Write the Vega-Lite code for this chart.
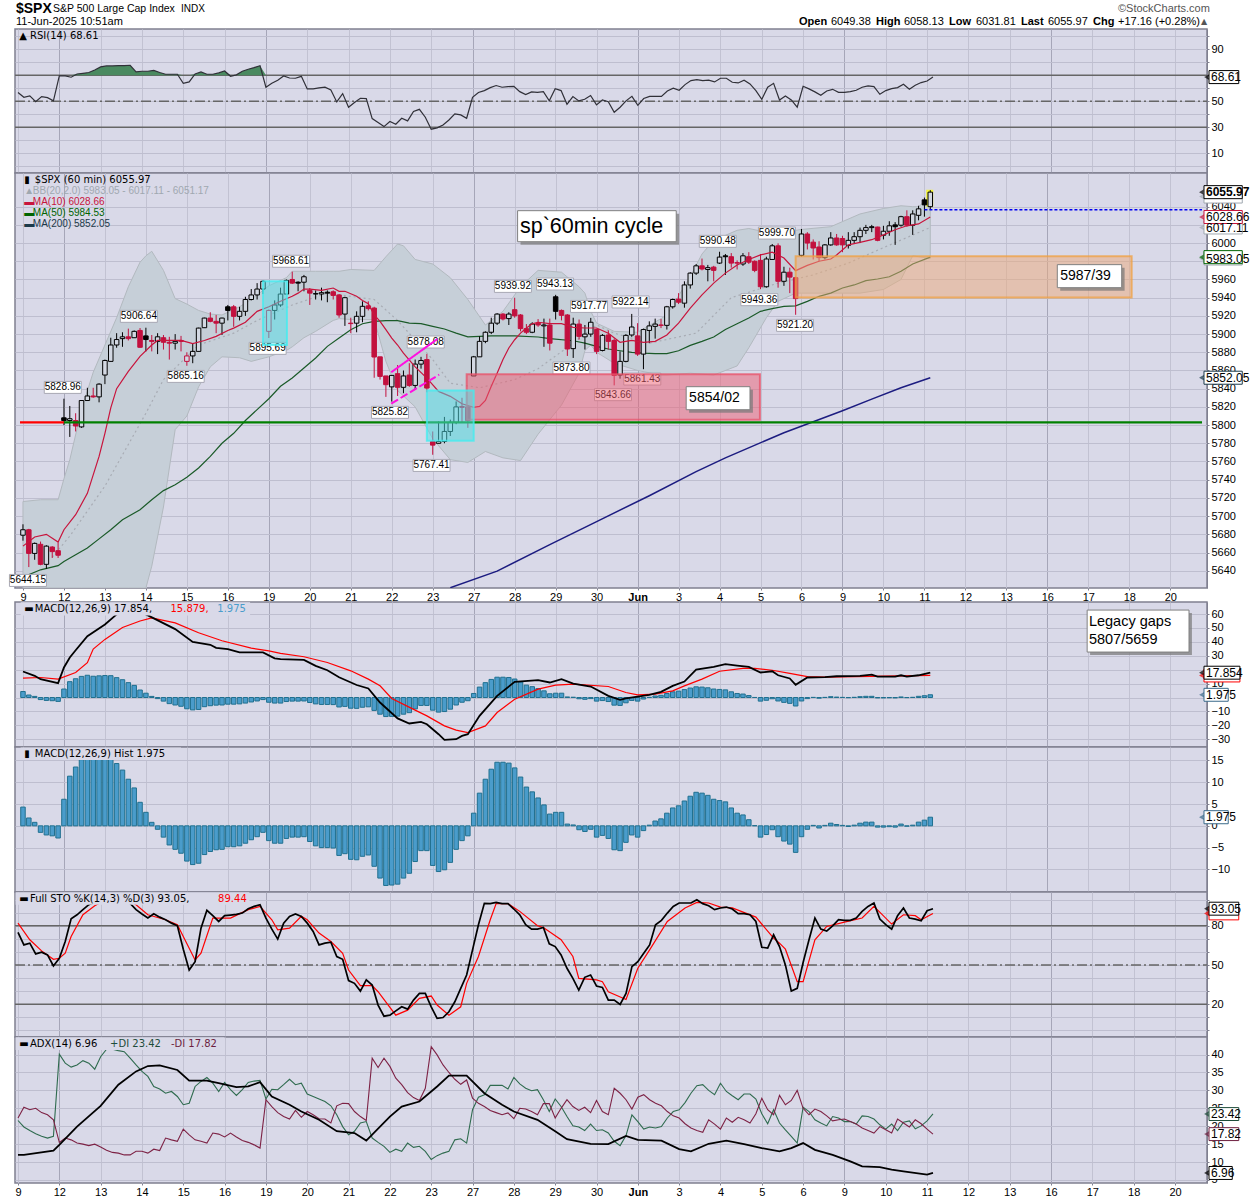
{"$schema":"https://vega.github.io/schema/vega-lite/v6.json","background":"white","padding":{"left":8,"top":0,"right":0,"bottom":2},"spacing":0,"bounds":"flush",
"config":{"view":{"fill":"#D9D9E8","stroke":"#808090","strokeWidth":1.5},"axis":{"labelFont":"Liberation Sans","labelFontSize":11,"labelColor":"#000","format":"d","title":null,"gridColor":"#BEBECF","gridWidth":1,"tickColor":"#808090","domainColor":"#808090"},"text":{"font":"Liberation Sans"}},
"datasets":{
"candles":[
{"i":0,"o":5679,"h":5691,"l":5673,"c":5685,"k":"u"},{"i":1,"o":5685,"h":5686,"l":5644,"c":5659,"k":"r"},{"i":2,"o":5659,"h":5671,"l":5652,"c":5670,"k":"u"},{"i":3,"o":5669,"h":5672,"l":5646,"c":5647,"k":"r"},{"i":4,"o":5647,"h":5668,"l":5642,"c":5667,"k":"u"},{"i":5,"o":5666,"h":5667,"l":5654,"c":5661,"k":"r"},{"i":6,"o":5662,"h":5671,"l":5654,"c":5657,"k":"r"},
{"i":7,"o":5808,"h":5829,"l":5800,"c":5805,"k":"b"},{"i":8,"o":5805,"h":5821,"l":5787,"c":5807,"k":"u"},{"i":9,"o":5805,"h":5813,"l":5793,"c":5799,"k":"r"},{"i":10,"o":5798,"h":5827,"l":5797,"c":5827,"k":"u"},{"i":11,"o":5827,"h":5841,"l":5827,"c":5832,"k":"u"},{"i":12,"o":5832,"h":5841,"l":5830,"c":5831,"k":"r"},{"i":13,"o":5831,"h":5846,"l":5825,"c":5845,"k":"u"},
{"i":14,"o":5855,"h":5872,"l":5845,"c":5871,"k":"u"},{"i":15,"o":5870,"h":5896,"l":5870,"c":5888,"k":"u"},{"i":16,"o":5888,"h":5901,"l":5885,"c":5894,"k":"u"},{"i":17,"o":5895,"h":5902,"l":5886,"c":5897,"k":"u"},{"i":18,"o":5897,"h":5906,"l":5893,"c":5895,"k":"r"},{"i":19,"o":5896,"h":5904,"l":5896,"c":5903,"k":"u"},{"i":20,"o":5904,"h":5906.64,"l":5885,"c":5885.5,"k":"r"},
{"i":21,"o":5898,"h":5907,"l":5881,"c":5894,"k":"b"},{"i":22,"o":5893,"h":5899,"l":5881,"c":5892,"k":"r"},{"i":23,"o":5892,"h":5901,"l":5878,"c":5897,"k":"u"},{"i":24,"o":5896,"h":5899,"l":5883,"c":5891,"k":"r"},{"i":25,"o":5891,"h":5897,"l":5872,"c":5890,"k":"r"},{"i":26,"o":5890,"h":5900,"l":5883,"c":5892,"k":"u"},{"i":27,"o":5893,"h":5898,"l":5881,"c":5892,"k":"r"},
{"i":28,"o":5870,"h":5880,"l":5865.16,"c":5876,"k":"h"},{"i":29,"o":5876,"h":5890,"l":5868,"c":5881,"k":"u"},{"i":30,"o":5881,"h":5907,"l":5881,"c":5906.6,"k":"u"},{"i":31,"o":5907,"h":5918,"l":5907,"c":5917.6,"k":"u"},{"i":32,"o":5917.6,"h":5924,"l":5913,"c":5914,"k":"r"},{"i":33,"o":5914,"h":5921,"l":5901,"c":5912,"k":"r"},{"i":34,"o":5912,"h":5918,"l":5899,"c":5917.6,"k":"u"},
{"i":35,"o":5930,"h":5932,"l":5915,"c":5926,"k":"b"},{"i":36,"o":5930,"h":5932,"l":5908,"c":5919.5,"k":"r"},{"i":37,"o":5919.5,"h":5930,"l":5915,"c":5925,"k":"u"},{"i":38,"o":5925,"h":5941,"l":5920,"c":5938,"k":"u"},{"i":39,"o":5938,"h":5949.5,"l":5937,"c":5943,"k":"u"},{"i":40,"o":5943,"h":5956,"l":5938,"c":5949.5,"k":"u"},{"i":41,"o":5949.5,"h":5959,"l":5944,"c":5958,"k":"u"},
{"i":42,"o":5903,"h":5927,"l":5895.69,"c":5926,"k":"h"},{"i":43,"o":5926,"h":5937,"l":5916,"c":5932,"k":"u"},{"i":44,"o":5932,"h":5951,"l":5930,"c":5944,"k":"u"},{"i":45,"o":5944,"h":5960,"l":5944,"c":5959,"k":"u"},{"i":46,"o":5960,"h":5968.61,"l":5955,"c":5956,"k":"r"},{"i":47,"o":5957,"h":5958,"l":5947,"c":5956,"k":"b"},{"i":48,"o":5957,"h":5965,"l":5947,"c":5963,"k":"u"},
{"i":49,"o":5948,"h":5950.6,"l":5932,"c":5945,"k":"r"},{"i":50,"o":5944,"h":5948,"l":5938,"c":5944.5,"k":"u"},{"i":51,"o":5944,"h":5951,"l":5937,"c":5945.5,"k":"u"},{"i":52,"o":5946,"h":5948,"l":5935,"c":5945,"k":"b"},{"i":53,"o":5946.5,"h":5948,"l":5938,"c":5942.5,"k":"r"},{"i":54,"o":5943,"h":5944,"l":5918,"c":5921,"k":"r"},{"i":55,"o":5922,"h":5941,"l":5909,"c":5940,"k":"u"},
{"i":56,"o":5912,"h":5918,"l":5901,"c":5911.5,"k":"r"},{"i":57,"o":5912,"h":5925,"l":5902,"c":5919.5,"k":"u"},{"i":58,"o":5919.5,"h":5936,"l":5913,"c":5930.5,"k":"u"},{"i":59,"o":5931,"h":5936,"l":5926,"c":5928,"k":"r"},{"i":60,"o":5928.6,"h":5930,"l":5852,"c":5874.8,"k":"r"},{"i":61,"o":5875,"h":5875,"l":5850,"c":5853.5,"k":"r"},{"i":62,"o":5854,"h":5854,"l":5831,"c":5844.4,"k":"r"},{"i":63,"o":5842,"h":5855,"l":5825.82,"c":5854.6,"k":"u"},
{"i":64,"o":5856.5,"h":5866,"l":5832,"c":5841.5,"k":"r"},{"i":65,"o":5841.5,"h":5860,"l":5835,"c":5854,"k":"u"},{"i":66,"o":5855,"h":5868,"l":5842,"c":5843.6,"k":"r"},{"i":67,"o":5843.6,"h":5872,"l":5839,"c":5867,"k":"u"},{"i":68,"o":5867,"h":5875,"l":5862,"c":5871,"k":"u"},{"i":69,"o":5872,"h":5878.08,"l":5836,"c":5840.7,"k":"r"},
{"i":70,"o":5782,"h":5793,"l":5767.41,"c":5778,"k":"r"},{"i":71,"o":5780,"h":5804,"l":5780,"c":5782,"k":"u"},{"i":72,"o":5782,"h":5809,"l":5780,"c":5793,"k":"u"},{"i":73,"o":5793,"h":5806,"l":5788,"c":5803,"k":"u"},{"i":74,"o":5803,"h":5826,"l":5801,"c":5820,"k":"u"},{"i":75,"o":5820.5,"h":5830,"l":5803,"c":5819.5,"k":"r"},{"i":76,"o":5820,"h":5822,"l":5797,"c":5805,"k":"r"},
{"i":77,"o":5854,"h":5876,"l":5854,"c":5875,"k":"u"},{"i":78,"o":5875,"h":5897.5,"l":5875,"c":5892,"k":"u"},{"i":79,"o":5892,"h":5903,"l":5890,"c":5902,"k":"u"},{"i":80,"o":5902,"h":5918,"l":5900,"c":5912,"k":"u"},{"i":81,"o":5912,"h":5923,"l":5910,"c":5922,"k":"u"},{"i":82,"o":5922,"h":5923,"l":5915,"c":5916.6,"k":"r"},{"i":83,"o":5917,"h":5924,"l":5910,"c":5922,"k":"u"},
{"i":84,"o":5926.8,"h":5939.92,"l":5918,"c":5920,"k":"r"},{"i":85,"o":5921,"h":5922,"l":5903,"c":5906,"k":"r"},{"i":86,"o":5906,"h":5911,"l":5900,"c":5902,"k":"r"},{"i":87,"o":5902,"h":5913,"l":5901,"c":5911,"k":"u"},{"i":88,"o":5912,"h":5916.5,"l":5908,"c":5910,"k":"r"},{"i":89,"o":5909,"h":5917,"l":5886,"c":5910,"k":"u"},{"i":90,"o":5910,"h":5917,"l":5882,"c":5890,"k":"r"},
{"i":91,"o":5941,"h":5943.13,"l":5916,"c":5925,"k":"b"},{"i":92,"o":5926,"h":5927,"l":5915,"c":5920.6,"k":"r"},{"i":93,"o":5921,"h":5922,"l":5876,"c":5883.6,"k":"r"},{"i":94,"o":5884,"h":5918,"l":5873.8,"c":5911,"k":"u"},{"i":95,"o":5911,"h":5916,"l":5894,"c":5897.5,"k":"r"},{"i":96,"o":5897,"h":5910,"l":5883,"c":5900,"k":"u"},{"i":97,"o":5900,"h":5917.77,"l":5897,"c":5913,"k":"u"},
{"i":98,"o":5905,"h":5906,"l":5878,"c":5881,"k":"r"},{"i":99,"o":5882,"h":5900,"l":5881,"c":5898.6,"k":"u"},{"i":100,"o":5899,"h":5904,"l":5883,"c":5892,"k":"r"},{"i":101,"o":5893,"h":5895,"l":5843.66,"c":5854.6,"k":"r"},{"i":102,"o":5855,"h":5881,"l":5851,"c":5870,"k":"u"},{"i":103,"o":5870,"h":5900,"l":5869,"c":5898.6,"k":"u"},{"i":104,"o":5899,"h":5922.14,"l":5897,"c":5907.8,"k":"u"},
{"i":105,"o":5898,"h":5912,"l":5876,"c":5878,"k":"r"},{"i":106,"o":5878,"h":5906,"l":5861.43,"c":5905,"k":"u"},{"i":107,"o":5904,"h":5914,"l":5890,"c":5909,"k":"u"},{"i":108,"o":5908.5,"h":5917,"l":5895,"c":5911,"k":"u"},{"i":109,"o":5910,"h":5916.6,"l":5906.6,"c":5909.6,"k":"r"},{"i":110,"o":5909.6,"h":5931,"l":5905,"c":5930,"k":"u"},{"i":111,"o":5930,"h":5939,"l":5928,"c":5938,"k":"u"},
{"i":112,"o":5938.5,"h":5945,"l":5933,"c":5935,"k":"r"},{"i":113,"o":5934,"h":5958,"l":5929,"c":5954,"k":"u"},{"i":114,"o":5954,"h":5968,"l":5950,"c":5967,"k":"u"},{"i":115,"o":5967,"h":5977,"l":5965,"c":5975,"k":"u"},{"i":116,"o":5975,"h":5983,"l":5970,"c":5971.5,"k":"r"},{"i":117,"o":5971,"h":5976,"l":5958,"c":5973,"k":"u"},{"i":118,"o":5973.6,"h":5975,"l":5958,"c":5970,"k":"r"},
{"i":119,"o":5978,"h":5990.48,"l":5977,"c":5984.6,"k":"u"},{"i":120,"o":5986,"h":5988,"l":5965,"c":5985,"k":"b"},{"i":121,"o":5985,"h":5989,"l":5973,"c":5978,"k":"r"},{"i":122,"o":5978.5,"h":5981,"l":5971,"c":5978,"k":"r"},{"i":123,"o":5977,"h":5989,"l":5975,"c":5986,"k":"u"},{"i":124,"o":5985,"h":5990,"l":5977,"c":5979,"k":"r"},{"i":125,"o":5980,"h":5981,"l":5968,"c":5970,"k":"r"},
{"i":126,"o":5981,"h":5988,"l":5949.36,"c":5952,"k":"r"},{"i":127,"o":5952,"h":5985,"l":5951,"c":5982.5,"k":"u"},{"i":128,"o":5982,"h":5999,"l":5982,"c":5997,"k":"u"},{"i":129,"o":5997,"h":5999.7,"l":5951,"c":5958,"k":"r"},{"i":130,"o":5958,"h":5974,"l":5953,"c":5968,"k":"u"},{"i":131,"o":5968,"h":5973,"l":5945,"c":5962.6,"k":"r"},{"i":132,"o":5962,"h":5963,"l":5921.2,"c":5939,"k":"r"},
{"i":133,"o":5986.5,"h":6015.5,"l":5985,"c":6010,"k":"u"},{"i":134,"o":6010,"h":6012,"l":5993,"c":6000,"k":"r"},{"i":135,"o":6001,"h":6004,"l":5982,"c":5994.6,"k":"r"},{"i":136,"o":5995.7,"h":6002,"l":5980,"c":5984,"k":"r"},{"i":137,"o":5984,"h":5999,"l":5982,"c":5998,"k":"u"},{"i":138,"o":5998,"h":6012,"l":5997,"c":6005.6,"k":"u"},{"i":139,"o":6005.6,"h":6010,"l":5997,"c":5998,"k":"r"},
{"i":140,"o":6005,"h":6008,"l":5990,"c":5998,"k":"r"},{"i":141,"o":5997.5,"h":6012,"l":5994,"c":6003,"k":"u"},{"i":142,"o":6003,"h":6012,"l":6000,"c":6007,"k":"u"},{"i":143,"o":6007,"h":6017,"l":6000,"c":6014,"k":"u"},{"i":144,"o":6014,"h":6020,"l":6010,"c":6017,"k":"u"},{"i":145,"o":6017,"h":6020,"l":6012,"c":6018,"k":"u"},{"i":146,"o":6017.6,"h":6018,"l":6002,"c":6003,"k":"r"},
{"i":147,"o":6008.6,"h":6019,"l":6004,"c":6013,"k":"u"},{"i":148,"o":6013,"h":6024,"l":6008,"c":6019,"k":"u"},{"i":149,"o":6020,"h":6023,"l":5998,"c":6018,"k":"b"},{"i":150,"o":6019.6,"h":6030,"l":6018,"c":6029,"k":"u"},{"i":151,"o":6029,"h":6036,"l":6018,"c":6019.6,"k":"r"},{"i":152,"o":6019.6,"h":6036,"l":6009,"c":6032,"k":"u"},{"i":153,"o":6030.5,"h":6041,"l":6025,"c":6037.6,"k":"u"},
{"i":154,"o":6047.5,"h":6050,"l":6029,"c":6042,"k":"b"},{"i":155,"o":6040,"h":6058.13,"l":6037,"c":6055.97,"k":"u"}],
"ind":[
{"i":0,"rsi":56.7,"hist":4.3,"stok":74.9,"pdi":21.6,"mdi":22.3},{"i":1,"rsi":53.1,"hist":1.8,"stok":65.4,"pdi":19.8,"mdi":25.3},{"i":2,"rsi":54.1,"hist":0.8,"stok":66.7,"pdi":18.8,"mdi":24.6},{"i":3,"rsi":49.7,"hist":-1.5,"stok":58.5,"pdi":17.9,"mdi":25},{"i":4,"rsi":53.6,"hist":-2.1,"stok":59.8,"pdi":17.2,"mdi":23.8},{"i":5,"rsi":52.8,"hist":-2.3,"stok":57.7,"pdi":16.7,"mdi":23.2},{"i":6,"rsi":50.3,"hist":-2.8,"stok":49.3,"pdi":17.2,"mdi":21.8},{"i":7,"rsi":69.5,"hist":6.1,"stok":55.2,"pdi":40.1,"mdi":15.5},{"i":8,"rsi":69.5,"hist":11.4,"stok":68,"pdi":37.6,"mdi":16.7},{"i":9,"rsi":68.5,"hist":13.5,"stok":85.4,"pdi":36.5,"mdi":16.2},
{"i":10,"rsi":71,"hist":15.2,"stok":88.4,"pdi":37.1,"mdi":15.3},{"i":11,"rsi":71.5,"hist":16,"stok":92.3,"pdi":38.3,"mdi":15},{"i":12,"rsi":72.1,"hist":15.3,"stok":96.1,"pdi":37.6,"mdi":14.6},{"i":13,"rsi":74.1,"hist":15.6,"stok":98,"pdi":35.9,"mdi":15},{"i":14,"rsi":76.4,"hist":15.8,"stok":98,"pdi":39.4,"mdi":14.2},{"i":15,"rsi":77.2,"hist":15.7,"stok":100,"pdi":41.5,"mdi":13.3},{"i":16,"rsi":77.2,"hist":14.3,"stok":100,"pdi":41.5,"mdi":12.7},{"i":17,"rsi":77.4,"hist":12.8,"stok":100,"pdi":41.1,"mdi":12.5},{"i":18,"rsi":77.4,"hist":10.7,"stok":99,"pdi":40.8,"mdi":12},{"i":19,"rsi":77.7,"hist":8.7,"stok":97,"pdi":39,"mdi":12},
{"i":20,"rsi":72.6,"hist":5.4,"stok":92.3,"pdi":37.1,"mdi":13},{"i":21,"rsi":73.1,"hist":3.1,"stok":89,"pdi":35.3,"mdi":13},{"i":22,"rsi":73.1,"hist":0.8,"stok":85.9,"pdi":33.9,"mdi":12.5},{"i":23,"rsi":73.8,"hist":-0.8,"stok":89.2,"pdi":31.1,"mdi":13.6},{"i":24,"rsi":72.1,"hist":-2.6,"stok":86.6,"pdi":30.4,"mdi":13.2},{"i":25,"rsi":70.8,"hist":-4.4,"stok":84.6,"pdi":29.2,"mdi":16.7},{"i":26,"rsi":70.8,"hist":-5.4,"stok":82,"pdi":29.7,"mdi":16.2},{"i":27,"rsi":70.8,"hist":-6.3,"stok":80,"pdi":28.3,"mdi":15.8},{"i":28,"rsi":63.8,"hist":-8.1,"stok":62.1,"pdi":26,"mdi":19.2},{"i":29,"rsi":64.9,"hist":-8.9,"stok":46.2,"pdi":26.4,"mdi":17.6},
{"i":30,"rsi":71,"hist":-8.6,"stok":52.6,"pdi":31.1,"mdi":16.2},{"i":31,"rsi":72.6,"hist":-6.6,"stok":78.2,"pdi":32.5,"mdi":15.8},{"i":32,"rsi":70.8,"hist":-5.9,"stok":91.8,"pdi":33.6,"mdi":15.3},{"i":33,"rsi":70.8,"hist":-5.5,"stok":87.7,"pdi":32,"mdi":18.1},{"i":34,"rsi":71.8,"hist":-5.4,"stok":83.3,"pdi":29.7,"mdi":17.8},{"i":35,"rsi":73.3,"hist":-4.8,"stok":87.7,"pdi":32.2,"mdi":17},{"i":36,"rsi":69.2,"hist":-4.8,"stok":88.2,"pdi":30.2,"mdi":18.1},{"i":37,"rsi":70.3,"hist":-4.6,"stok":88.7,"pdi":28.6,"mdi":17},{"i":38,"rsi":73.1,"hist":-4,"stok":89.7,"pdi":30.2,"mdi":16},{"i":39,"rsi":74.6,"hist":-3.2,"stok":93,"pdi":32.2,"mdi":15.5},
{"i":40,"rsi":75.9,"hist":-2.5,"stok":94.8,"pdi":32.6,"mdi":14.8},{"i":41,"rsi":77.4,"hist":-1.5,"stok":96.1,"pdi":32.8,"mdi":13.9},{"i":42,"rsi":60.8,"hist":-3.4,"stok":85.9,"pdi":27.6,"mdi":27.4},{"i":43,"rsi":63.8,"hist":-4,"stok":77.4,"pdi":30.3,"mdi":25.5},{"i":44,"rsi":66.2,"hist":-4,"stok":69.8,"pdi":30.2,"mdi":23.8},{"i":45,"rsi":69.5,"hist":-2.9,"stok":82,"pdi":31.6,"mdi":22.7},{"i":46,"rsi":67.9,"hist":-2.6,"stok":87.2,"pdi":33.1,"mdi":22},{"i":47,"rsi":67.7,"hist":-2.6,"stok":89,"pdi":31.6,"mdi":24.4},{"i":48,"rsi":69.2,"hist":-2.5,"stok":87.2,"pdi":32,"mdi":22.5},{"i":49,"rsi":59.5,"hist":-3.6,"stok":82,"pdi":29,"mdi":24.1},
{"i":50,"rsi":59.5,"hist":-4.6,"stok":75.7,"pdi":28.3,"mdi":23.2},{"i":51,"rsi":60.3,"hist":-5,"stok":65.4,"pdi":27.6,"mdi":22.1},{"i":52,"rsi":60.8,"hist":-5,"stok":66.7,"pdi":26.9,"mdi":22},{"i":53,"rsi":58.7,"hist":-5.1,"stok":67.5,"pdi":25.7,"mdi":20.9},{"i":54,"rsi":49.5,"hist":-6.8,"stok":56.5,"pdi":23.2,"mdi":25.7},{"i":55,"rsi":55.9,"hist":-6.4,"stok":54.4,"pdi":19.9,"mdi":26.4},{"i":56,"rsi":45.4,"hist":-7.7,"stok":38.1,"pdi":17.6,"mdi":26.3},{"i":57,"rsi":49,"hist":-7.8,"stok":36,"pdi":18.6,"mdi":24.1},{"i":58,"rsi":52.3,"hist":-7,"stok":30.1,"pdi":20.9,"mdi":22.7},{"i":59,"rsi":52.1,"hist":-6.7,"stok":38.6,"pdi":21.3,"mdi":21.6},
{"i":60,"rsi":36.7,"hist":-9.3,"stok":34.7,"pdi":16.7,"mdi":39},{"i":61,"rsi":33.6,"hist":-12,"stok":19.4,"pdi":15.5,"mdi":36.4},{"i":62,"rsi":30.5,"hist":-13.7,"stok":10.9,"pdi":14.4,"mdi":39},{"i":63,"rsi":34.4,"hist":-13.6,"stok":11.7,"pdi":12.7,"mdi":36.7},{"i":64,"rsi":32.3,"hist":-13.4,"stok":15,"pdi":13.6,"mdi":33.4},{"i":65,"rsi":36.9,"hist":-12,"stok":18.1,"pdi":13,"mdi":31.6},{"i":66,"rsi":34.9,"hist":-10.9,"stok":16.3,"pdi":15.3,"mdi":29.4},{"i":67,"rsi":42.1,"hist":-8.2,"stok":23.2,"pdi":14.1,"mdi":28},{"i":68,"rsi":43.8,"hist":-5.7,"stok":28.3,"pdi":14.4,"mdi":27.2},{"i":69,"rsi":37.7,"hist":-5.7,"stok":28.3,"pdi":13,"mdi":30.6},
{"i":70,"rsi":28.5,"hist":-9.1,"stok":18.1,"pdi":10.7,"mdi":42.2},{"i":71,"rsi":29.5,"hist":-10.5,"stok":9.2,"pdi":11.8,"mdi":39.9},{"i":72,"rsi":31.8,"hist":-10.1,"stok":9.9,"pdi":12.5,"mdi":37.1},{"i":73,"rsi":35.6,"hist":-8.4,"stok":14.3,"pdi":13,"mdi":35},{"i":74,"rsi":40.3,"hist":-5.4,"stok":21.9,"pdi":16.2,"mdi":33.1},{"i":75,"rsi":39.5,"hist":-3.4,"stok":32.2,"pdi":16.5,"mdi":31.7},{"i":76,"rsi":36.9,"hist":-2.3,"stok":42.4,"pdi":15.3,"mdi":32.9},{"i":77,"rsi":53.1,"hist":2.9,"stok":61.6,"pdi":24.6,"mdi":27.8},{"i":78,"rsi":56.7,"hist":7.5,"stok":80.8,"pdi":28.1,"mdi":26.4},{"i":79,"rsi":58.2,"hist":10.7,"stok":97.1,"pdi":28.8,"mdi":25.5},
{"i":80,"rsi":60.5,"hist":13,"stok":96.9,"pdi":31.4,"mdi":24.4},{"i":81,"rsi":62.1,"hist":14.6,"stok":97.9,"pdi":31.4,"mdi":23.8},{"i":82,"rsi":60.8,"hist":14.6,"stok":96.9,"pdi":31.4,"mdi":23.2},{"i":83,"rsi":61.3,"hist":14.4,"stok":96.9,"pdi":30.4,"mdi":23.7},{"i":84,"rsi":61.5,"hist":13.3,"stok":92.8,"pdi":33.6,"mdi":22.1},{"i":85,"rsi":57.4,"hist":11.2,"stok":88.4,"pdi":31.8,"mdi":25},{"i":86,"rsi":55.1,"hist":8.9,"stok":80.8,"pdi":30.6,"mdi":24.8},{"i":87,"rsi":57.2,"hist":7.8,"stok":77.4,"pdi":29.9,"mdi":24.1},{"i":88,"rsi":56.9,"hist":6.4,"stok":77.4,"pdi":30.2,"mdi":23.2},{"i":89,"rsi":57.4,"hist":4.8,"stok":78.7,"pdi":27.4,"mdi":26.3},
{"i":90,"rsi":50.3,"hist":2.7,"stok":66.2,"pdi":24.1,"mdi":26.3},{"i":91,"rsi":59.7,"hist":3.1,"stok":64.1,"pdi":27.6,"mdi":22.3},{"i":92,"rsi":58.2,"hist":3.1,"stok":57.7,"pdi":25.5,"mdi":25},{"i":93,"rsi":47.7,"hist":0.4,"stok":47.5,"pdi":22.7,"mdi":27.4},{"i":94,"rsi":53.6,"hist":0.2,"stok":39.8,"pdi":20.1,"mdi":25.5},{"i":95,"rsi":50.3,"hist":-0.9,"stok":30.9,"pdi":19.8,"mdi":24.4},{"i":96,"rsi":51.5,"hist":-1.3,"stok":40.6,"pdi":18.8,"mdi":25.3},{"i":97,"rsi":54.4,"hist":-0.8,"stok":42.4,"pdi":20.6,"mdi":23.8},{"i":98,"rsi":47.2,"hist":-2.6,"stok":34,"pdi":18.8,"mdi":27.2},{"i":99,"rsi":51,"hist":-2.2,"stok":32.9,"pdi":19,"mdi":24.1},
{"i":100,"rsi":49.7,"hist":-2.9,"stok":23.2,"pdi":18.1,"mdi":23.2},{"i":101,"rsi":41.5,"hist":-5.5,"stok":23.2,"pdi":15.8,"mdi":30.6},{"i":102,"rsi":45.4,"hist":-5.7,"stok":19.9,"pdi":14.6,"mdi":29.2},{"i":103,"rsi":50.3,"hist":-3.8,"stok":28.3,"pdi":17.4,"mdi":27.4},{"i":104,"rsi":53.8,"hist":-2.1,"stok":48.8,"pdi":23.2,"mdi":24.8},{"i":105,"rsi":46.9,"hist":-2.6,"stok":52.6,"pdi":21.3,"mdi":28.1},{"i":106,"rsi":52.1,"hist":-1.1,"stok":59,"pdi":19.2,"mdi":28.8},{"i":107,"rsi":53.8,"hist":0.15,"stok":65.4,"pdi":19.8,"mdi":27.4},{"i":108,"rsi":53.8,"hist":1.1,"stok":80.8,"pdi":19.5,"mdi":26.4},{"i":109,"rsi":53.8,"hist":1.6,"stok":84.1,"pdi":19.9,"mdi":25.7},
{"i":110,"rsi":57.9,"hist":2.9,"stok":89.7,"pdi":22.3,"mdi":24.1},{"i":111,"rsi":60,"hist":4.1,"stok":94.8,"pdi":24.1,"mdi":22.9},{"i":112,"rsi":58.5,"hist":4.6,"stok":97.4,"pdi":24.6,"mdi":22.3},{"i":113,"rsi":62.8,"hist":5.7,"stok":97.4,"pdi":26.6,"mdi":20.7},{"i":114,"rsi":65.9,"hist":6.8,"stok":97.4,"pdi":29.2,"mdi":19.5},{"i":115,"rsi":66.7,"hist":7.7,"stok":99.9,"pdi":31.3,"mdi":18.8},{"i":116,"rsi":65.9,"hist":7.5,"stok":96.9,"pdi":31.6,"mdi":18.3},{"i":117,"rsi":66.2,"hist":7,"stok":95.3,"pdi":30,"mdi":21.8},{"i":118,"rsi":64.9,"hist":6.1,"stok":92.3,"pdi":28.8,"mdi":20.6},{"i":119,"rsi":67.7,"hist":5.8,"stok":93.6,"pdi":32,"mdi":19.2},
{"i":120,"rsi":67.7,"hist":5.5,"stok":94.3,"pdi":29.7,"mdi":22.3},{"i":121,"rsi":64.6,"hist":4.1,"stok":92.8,"pdi":28.5,"mdi":21.1},{"i":122,"rsi":64.1,"hist":2.9,"stok":89.2,"pdi":27.4,"mdi":22.5},{"i":123,"rsi":66.2,"hist":2.5,"stok":89.2,"pdi":29,"mdi":21.8},{"i":124,"rsi":63.3,"hist":1.4,"stok":88.4,"pdi":29,"mdi":20.9},{"i":125,"rsi":58.2,"hist":0.05,"stok":83.3,"pdi":27.6,"mdi":23.5},{"i":126,"rsi":51.5,"hist":-2.6,"stok":63.6,"pdi":23.5,"mdi":27.8},{"i":127,"rsi":60.8,"hist":-2,"stok":62.9,"pdi":20.7,"mdi":24.6},{"i":128,"rsi":63.8,"hist":-0.9,"stok":73.1,"pdi":24.6,"mdi":23.2},{"i":129,"rsi":51,"hist":-2.5,"stok":64.1,"pdi":20.9,"mdi":28.6},
{"i":130,"rsi":54.1,"hist":-3.5,"stok":50.1,"pdi":19,"mdi":26},{"i":131,"rsi":51,"hist":-4.2,"stok":30.1,"pdi":17.2,"mdi":27.2},{"i":132,"rsi":45.4,"hist":-6.1,"stok":32.2,"pdi":15.3,"mdi":30},{"i":133,"rsi":61.5,"hist":-2.5,"stok":51.9,"pdi":25.3,"mdi":25},{"i":134,"rsi":59.5,"hist":-0.8,"stok":69.3,"pdi":24.1,"mdi":23.2},{"i":135,"rsi":57.2,"hist":0.1,"stok":85.9,"pdi":21.8,"mdi":24.8},{"i":136,"rsi":54.6,"hist":-0.5,"stok":77.4,"pdi":20.9,"mdi":24.1},{"i":137,"rsi":57.9,"hist":0.1,"stok":75.9,"pdi":20.1,"mdi":22.9},{"i":138,"rsi":59.2,"hist":0.6,"stok":80,"pdi":22.7,"mdi":21.5},{"i":139,"rsi":56.9,"hist":0.3,"stok":84.6,"pdi":22.3,"mdi":21.8},
{"i":140,"rsi":56.9,"hist":0.1,"stok":84.1,"pdi":21.3,"mdi":22},{"i":141,"rsi":57.4,"hist":-0.15,"stok":84.1,"pdi":21.3,"mdi":21.3},{"i":142,"rsi":58.5,"hist":0.15,"stok":85.9,"pdi":20.6,"mdi":20.6},{"i":143,"rsi":60.8,"hist":0.6,"stok":91,"pdi":22.9,"mdi":19.5},{"i":144,"rsi":61.8,"hist":0.85,"stok":94.8,"pdi":22.7,"mdi":18.8},{"i":145,"rsi":61.3,"hist":0.85,"stok":97.4,"pdi":22,"mdi":18.1},{"i":146,"rsi":55.4,"hist":-0.3,"stok":85.1,"pdi":20.4,"mdi":19.9},{"i":147,"rsi":58.2,"hist":-0.3,"stok":80.8,"pdi":19.2,"mdi":19},{"i":148,"rsi":59.7,"hist":-0.2,"stok":77.4,"pdi":20.6,"mdi":18.1},{"i":149,"rsi":60.5,"hist":-0.3,"stok":87.7,"pdi":18.8,"mdi":22},
{"i":150,"rsi":63.1,"hist":0.4,"stok":93.6,"pdi":21.1,"mdi":20.9},{"i":151,"rsi":59.2,"hist":-0.1,"stok":85.9,"pdi":21.5,"mdi":19.8},{"i":152,"rsi":62.3,"hist":0.15,"stok":85.1,"pdi":19.3,"mdi":21.8},{"i":153,"rsi":64.4,"hist":0.85,"stok":83.8,"pdi":20.1,"mdi":20.7},{"i":154,"rsi":65.6,"hist":1.3,"stok":91.5,"pdi":21.5,"mdi":19.2},{"i":155,"rsi":68.61,"hist":1.975,"stok":93.05,"pdi":23.42,"mdi":17.82}],
"rsifill":[{"i":9,"v":70},{"i":10,"v":71},{"i":11,"v":71.5},{"i":12,"v":72.1},{"i":13,"v":74.1},{"i":14,"v":76.4},{"i":15,"v":77.2},{"i":16,"v":77.2},{"i":17,"v":77.4},{"i":18,"v":77.4},{"i":19,"v":77.7},{"i":20,"v":72.6},{"i":21,"v":73.1},{"i":22,"v":73.1},{"i":23,"v":73.8},{"i":24,"v":72.1},{"i":25,"v":70.8},{"i":26,"v":70.8},{"i":27,"v":70.8},{"i":28,"v":70},{"i":29,"v":70},{"i":30,"v":71},{"i":31,"v":72.6},{"i":32,"v":70.8},{"i":33,"v":70.8},{"i":34,"v":71.8},{"i":35,"v":73.3},{"i":36,"v":70},{"i":37,"v":70.3},{"i":38,"v":73.1},{"i":39,"v":74.6},{"i":40,"v":75.9},{"i":41,"v":77.4},{"i":42,"v":70}],
"bb":[{"i":0,"u":5716,"l":5621},{"i":3,"u":5718,"l":5621},{"i":6,"u":5718,"l":5621},{"i":7,"u":5741,"l":5621},{"i":8,"u":5762,"l":5621},{"i":10,"u":5817,"l":5621},{"i":12,"u":5858,"l":5621},{"i":14,"u":5888,"l":5621},{"i":16,"u":5918,"l":5621},{"i":18,"u":5952,"l":5621},{"i":20,"u":5979,"l":5621},{"i":21,"u":5986,"l":5621},{"i":22,"u":5991,"l":5645},{"i":24,"u":5970,"l":5710},{"i":26,"u":5939,"l":5795},{"i":28,"u":5933,"l":5810},{"i":30,"u":5926,"l":5842},{"i":32,"u":5922,"l":5864},{"i":34,"u":5921,"l":5875},{"i":37,"u":5930,"l":5874},{"i":39,"u":5938,"l":5870},{"i":42,"u":5953,"l":5875},{"i":45,"u":5962,"l":5882},{"i":46,"u":5969,"l":5886},{"i":48,"u":5969,"l":5896},{"i":50,"u":5969,"l":5903},{"i":53,"u":5969,"l":5915},{"i":54,"u":5969,"l":5917},{"i":56,"u":5971,"l":5916},{"i":60,"u":5970,"l":5916},{"i":62,"u":5985,"l":5870},{"i":64,"u":5999,"l":5838},{"i":65,"u":5997,"l":5832},{"i":67,"u":5982,"l":5820},{"i":70,"u":5977,"l":5785},{"i":73,"u":5962,"l":5762},{"i":76,"u":5938,"l":5759},{"i":79,"u":5910,"l":5771},{"i":82,"u":5925,"l":5764},{"i":85,"u":5952,"l":5761},{"i":88,"u":5970,"l":5790},{"i":92,"u":5968,"l":5822},{"i":95,"u":5952,"l":5857},{"i":96,"u":5945,"l":5882},{"i":97,"u":5925,"l":5888},{"i":98,"u":5912,"l":5880},{"i":101,"u":5903,"l":5868},{"i":105,"u":5902,"l":5860},{"i":109,"u":5917,"l":5855},{"i":110,"u":5921,"l":5855},{"i":112,"u":5942,"l":5856},{"i":114,"u":5963,"l":5857},{"i":116,"u":5988,"l":5856},{"i":118,"u":6003,"l":5855},{"i":122,"u":6014,"l":5865},{"i":124,"u":6016,"l":5885},{"i":127,"u":6012,"l":5918},{"i":129,"u":6012,"l":5936},{"i":132,"u":6014,"l":5945},{"i":133,"u":6015,"l":5945},{"i":138,"u":6018,"l":5945},{"i":143,"u":6032,"l":5945},{"i":147,"u":6038,"l":5949},{"i":150,"u":6041,"l":5960},{"i":152,"u":6040,"l":5986},{"i":153,"u":6040,"l":5985},{"i":155,"u":6051.17,"l":5983.05}],
"bbmid":[{"i":5,"v":5655},{"i":8,"v":5678},{"i":14,"v":5733},{"i":21,"v":5813},{"i":24,"v":5850},{"i":30,"v":5888},{"i":36,"v":5901},{"i":40,"v":5915},{"i":46,"v":5932},{"i":52,"v":5945},{"i":60,"v":5938},{"i":64,"v":5915},{"i":70,"v":5872},{"i":73,"v":5846},{"i":78,"v":5841},{"i":84,"v":5850},{"i":88,"v":5862},{"i":94,"v":5890},{"i":98,"v":5910},{"i":101,"v":5901},{"i":107,"v":5890},{"i":115,"v":5901},{"i":121,"v":5940},{"i":129,"v":5956},{"i":135,"v":5965},{"i":141,"v":5978},{"i":147,"v":5995},{"i":155,"v":6017.11}],
"ma10":[{"i":0,"v":5667},{"i":2,"v":5677},{"i":4,"v":5680},{"i":6,"v":5671.5},{"i":7,"v":5685},{"i":9,"v":5701.5},{"i":11,"v":5725},{"i":13,"v":5765.6},{"i":14,"v":5791},{"i":15,"v":5819},{"i":16,"v":5840},{"i":18,"v":5859},{"i":20,"v":5875.5},{"i":22,"v":5888},{"i":23,"v":5893},{"i":27,"v":5893},{"i":29,"v":5889.5},{"i":31,"v":5893},{"i":33,"v":5897.5},{"i":35,"v":5904},{"i":36,"v":5906.6},{"i":38,"v":5913},{"i":40,"v":5925},{"i":42,"v":5930},{"i":44,"v":5936},{"i":46,"v":5941.5},{"i":47,"v":5945},{"i":48,"v":5949.5},{"i":49,"v":5949.5},{"i":51,"v":5948},{"i":53,"v":5950.6},{"i":54,"v":5947},{"i":55,"v":5947},{"i":57,"v":5941.5},{"i":58,"v":5937},{"i":59,"v":5933.4},{"i":60,"v":5921},{"i":61,"v":5914},{"i":62,"v":5905},{"i":63,"v":5895.6},{"i":64,"v":5888},{"i":65,"v":5879},{"i":67,"v":5864},{"i":69,"v":5851.7},{"i":71,"v":5837},{"i":73,"v":5831.6},{"i":75,"v":5823.5},{"i":77,"v":5819.5},{"i":78,"v":5820.6},{"i":79,"v":5827},{"i":80,"v":5842.6},{"i":81,"v":5857},{"i":82,"v":5872},{"i":83,"v":5884.7},{"i":84,"v":5893.8},{"i":85,"v":5901},{"i":86,"v":5906.7},{"i":87,"v":5911.4},{"i":88,"v":5913},{"i":90,"v":5911.4},{"i":92,"v":5911.4},{"i":94,"v":5907.4},{"i":96,"v":5906.7},{"i":98,"v":5906.7},{"i":100,"v":5901},{"i":102,"v":5891},{"i":104,"v":5893},{"i":106,"v":5891},{"i":108,"v":5892},{"i":110,"v":5899},{"i":112,"v":5912},{"i":114,"v":5928.6},{"i":116,"v":5943},{"i":118,"v":5956},{"i":120,"v":5967},{"i":122,"v":5976},{"i":124,"v":5982},{"i":126,"v":5987},{"i":128,"v":5990},{"i":130,"v":5983.6},{"i":132,"v":5969.7},{"i":134,"v":5975.5},{"i":136,"v":5980},{"i":138,"v":5982.5},{"i":139,"v":5987},{"i":141,"v":5998},{"i":143,"v":6000.8},{"i":145,"v":6003.7},{"i":147,"v":6009},{"i":149,"v":6014.7},{"i":151,"v":6019},{"i":153,"v":6021},{"i":155,"v":6028.66}],
"ma50":[{"i":0,"v":5633},{"i":3,"v":5641},{"i":6,"v":5645.5},{"i":7,"v":5650},{"i":9,"v":5657.6},{"i":11,"v":5665},{"i":13,"v":5675},{"i":15,"v":5685},{"i":17,"v":5696},{"i":20,"v":5707},{"i":22,"v":5718},{"i":24,"v":5728},{"i":26,"v":5734.5},{"i":28,"v":5742.6},{"i":30,"v":5752.8},{"i":32,"v":5765.6},{"i":34,"v":5780},{"i":36,"v":5791},{"i":38,"v":5805},{"i":40,"v":5817},{"i":42,"v":5829},{"i":44,"v":5842.6},{"i":46,"v":5851.7},{"i":48,"v":5862.7},{"i":50,"v":5873.7},{"i":52,"v":5886.5},{"i":54,"v":5895.7},{"i":56,"v":5904.8},{"i":58,"v":5911.4},{"i":60,"v":5914},{"i":62,"v":5914.7},{"i":64,"v":5914.7},{"i":66,"v":5912},{"i":68,"v":5911.4},{"i":70,"v":5908.5},{"i":72,"v":5905.6},{"i":74,"v":5901},{"i":76,"v":5897},{"i":78,"v":5897.5},{"i":80,"v":5898},{"i":84,"v":5898},{"i":88,"v":5896.8},{"i":90,"v":5895},{"i":94,"v":5892.7},{"i":96,"v":5890},{"i":98,"v":5886.5},{"i":100,"v":5883.6},{"i":102,"v":5881.7},{"i":104,"v":5880},{"i":106,"v":5879},{"i":108,"v":5878.5},{"i":110,"v":5878.5},{"i":112,"v":5881.7},{"i":114,"v":5887.6},{"i":116,"v":5892},{"i":118,"v":5896.8},{"i":120,"v":5905},{"i":122,"v":5911.4},{"i":124,"v":5917.7},{"i":126,"v":5925},{"i":128,"v":5928},{"i":130,"v":5930.5},{"i":132,"v":5931},{"i":134,"v":5936},{"i":136,"v":5941.5},{"i":138,"v":5945},{"i":140,"v":5950.6},{"i":142,"v":5954},{"i":144,"v":5958.7},{"i":146,"v":5960.5},{"i":148,"v":5963},{"i":150,"v":5969},{"i":152,"v":5977},{"i":155,"v":5984.53}],
"ma200":[{"i":73,"v":5621.3},{"i":81,"v":5639.5},{"i":90,"v":5668.6},{"i":98,"v":5694},{"i":107,"v":5722.4},{"i":115,"v":5748.8},{"i":120,"v":5764},{"i":130,"v":5791.6},{"i":135,"v":5803.7},{"i":140,"v":5815.8},{"i":145,"v":5828.5},{"i":150,"v":5841},{"i":155,"v":5852.05}],
"macd":[{"i":0,"v":18.7},{"i":2,"v":15.6},{"i":3,"v":13.2},{"i":6,"v":10.3},{"i":7,"v":21.6},{"i":8,"v":28.8},{"i":9,"v":34},{"i":11,"v":44.1},{"i":14,"v":52.5},{"i":16,"v":59.8},{"i":18,"v":65},{"i":21,"v":59.8},{"i":26,"v":49.2},{"i":29,"v":40},{"i":32,"v":37.9},{"i":33,"v":35.7},{"i":35,"v":34.8},{"i":37,"v":32.4},{"i":41,"v":32.4},{"i":43,"v":28.2},{"i":44,"v":27.6},{"i":48,"v":27},{"i":50,"v":22.8},{"i":52,"v":19.6},{"i":54,"v":14.6},{"i":57,"v":9},{"i":59,"v":6.5},{"i":61,"v":-3.6},{"i":64,"v":-15},{"i":66,"v":-18.7},{"i":68,"v":-17.5},{"i":69,"v":-19.2},{"i":71,"v":-26.4},{"i":72,"v":-30.5},{"i":74,"v":-30},{"i":75,"v":-27.6},{"i":76,"v":-26.4},{"i":78,"v":-13.2},{"i":81,"v":1.2},{"i":84,"v":11.3},{"i":88,"v":12.5},{"i":90,"v":10.8},{"i":92,"v":13.2},{"i":94,"v":10},{"i":97,"v":7.9},{"i":100,"v":1.2},{"i":102,"v":-1.7},{"i":103,"v":-0.7},{"i":105,"v":0.7},{"i":107,"v":1.9},{"i":109,"v":4.1},{"i":111,"v":8.4},{"i":113,"v":11.5},{"i":115,"v":20},{"i":118,"v":22},{"i":120,"v":24},{"i":122,"v":23},{"i":124,"v":22},{"i":126,"v":18},{"i":128,"v":18.9},{"i":129,"v":16},{"i":131,"v":13.7},{"i":132,"v":9.1},{"i":134,"v":14.4},{"i":137,"v":14.6},{"i":139,"v":15.3},{"i":143,"v":15.6},{"i":145,"v":16.5},{"i":146,"v":15},{"i":149,"v":15},{"i":150,"v":16},{"i":151,"v":15},{"i":153,"v":16},{"i":155,"v":17.854}],
"signal":[{"i":0,"v":13.9},{"i":3,"v":14.4},{"i":6,"v":13.2},{"i":9,"v":18},{"i":11,"v":25},{"i":12,"v":34.8},{"i":14,"v":41.8},{"i":17,"v":50.4},{"i":20,"v":55},{"i":22,"v":57.3},{"i":26,"v":53.7},{"i":30,"v":46.6},{"i":34,"v":40.8},{"i":39,"v":35.5},{"i":42,"v":33.6},{"i":44,"v":31.7},{"i":48,"v":29.3},{"i":52,"v":25.2},{"i":56,"v":19.2},{"i":59,"v":13.2},{"i":61,"v":8.4},{"i":63,"v":-0.7},{"i":67,"v":-9.1},{"i":69,"v":-13.2},{"i":72,"v":-20.4},{"i":74,"v":-23.5},{"i":76,"v":-25.2},{"i":79,"v":-20.4},{"i":81,"v":-10.8},{"i":84,"v":-1.2},{"i":88,"v":6},{"i":91,"v":8.9},{"i":94,"v":9.6},{"i":100,"v":7.9},{"i":103,"v":3.6},{"i":105,"v":1.9},{"i":108,"v":2.4},{"i":111,"v":4.8},{"i":113,"v":8.4},{"i":116,"v":13.2},{"i":119,"v":18.9},{"i":123,"v":21},{"i":125,"v":21},{"i":128,"v":19.6},{"i":131,"v":17.3},{"i":134,"v":15},{"i":137,"v":14.6},{"i":150,"v":15.6},{"i":155,"v":15.879}],
"stod":[{"i":0,"v":82},{"i":2,"v":69.3},{"i":4,"v":60.8},{"i":6,"v":54.4},{"i":7,"v":55.2},{"i":8,"v":59},{"i":9,"v":71.8},{"i":11,"v":88.4},{"i":13,"v":95.3},{"i":15,"v":100},{"i":18,"v":101},{"i":20,"v":96},{"i":22,"v":88.4},{"i":25,"v":84.6},{"i":27,"v":80.8},{"i":28,"v":71.8},{"i":30,"v":53.9},{"i":31,"v":59},{"i":33,"v":85.9},{"i":36,"v":85.9},{"i":39,"v":92.3},{"i":41,"v":94.8},{"i":43,"v":84.6},{"i":44,"v":76.9},{"i":46,"v":78.2},{"i":48,"v":87.2},{"i":49,"v":84.6},{"i":51,"v":74.4},{"i":53,"v":68},{"i":55,"v":59},{"i":56,"v":46.2},{"i":58,"v":34.2},{"i":60,"v":34.2},{"i":61,"v":29.6},{"i":64,"v":11.7},{"i":66,"v":15.5},{"i":68,"v":24.5},{"i":70,"v":26.3},{"i":71,"v":19.4},{"i":73,"v":11.7},{"i":75,"v":18.1},{"i":76,"v":36},{"i":78,"v":56.5},{"i":80,"v":84.6},{"i":81,"v":96.9},{"i":83,"v":96.9},{"i":85,"v":91},{"i":88,"v":80},{"i":89,"v":78.7},{"i":92,"v":69.3},{"i":94,"v":56.5},{"i":95,"v":39.8},{"i":98,"v":38.6},{"i":99,"v":37.3},{"i":100,"v":29.6},{"i":103,"v":23.7},{"i":105,"v":47.5},{"i":107,"v":61.6},{"i":110,"v":83.3},{"i":113,"v":93.6},{"i":115,"v":97.9},{"i":117,"v":97.4},{"i":119,"v":94.3},{"i":121,"v":93.6},{"i":125,"v":86.6},{"i":128,"v":70.5},{"i":129,"v":66.7},{"i":130,"v":62.1},{"i":132,"v":37.3},{"i":133,"v":37.3},{"i":135,"v":69.3},{"i":137,"v":79.5},{"i":140,"v":82.8},{"i":143,"v":85.9},{"i":145,"v":94.8},{"i":148,"v":81.3},{"i":150,"v":88.4},{"i":152,"v":87.7},{"i":153,"v":84.6},{"i":155,"v":89.44}],
"adx":[{"i":0,"v":12},{"i":1,"v":12},{"i":6,"v":13.2},{"i":7,"v":14.8},{"i":10,"v":19.9},{"i":14,"v":25.7},{"i":17,"v":31.6},{"i":20,"v":35.3},{"i":22,"v":36.8},{"i":24,"v":37},{"i":27,"v":35.7},{"i":29,"v":32.7},{"i":32,"v":32.7},{"i":34,"v":32},{"i":37,"v":30.9},{"i":39,"v":31.1},{"i":41,"v":32.3},{"i":43,"v":28.3},{"i":46,"v":26},{"i":48,"v":24.1},{"i":51,"v":21.8},{"i":54,"v":18.6},{"i":57,"v":18.1},{"i":59,"v":16},{"i":63,"v":22.7},{"i":65,"v":25.5},{"i":68,"v":26.9},{"i":71,"v":31.1},{"i":73,"v":34.1},{"i":76,"v":34.1},{"i":79,"v":29.2},{"i":82,"v":26},{"i":84,"v":24.1},{"i":88,"v":21.8},{"i":91,"v":18.6},{"i":93,"v":16.4},{"i":97,"v":15.1},{"i":100,"v":15},{"i":103,"v":17.3},{"i":105,"v":16.2},{"i":109,"v":16},{"i":112,"v":13.6},{"i":114,"v":13},{"i":117,"v":15.1},{"i":120,"v":16},{"i":123,"v":15},{"i":126,"v":13.9},{"i":129,"v":13},{"i":131,"v":13.9},{"i":133,"v":15.3},{"i":135,"v":13.4},{"i":138,"v":12},{"i":141,"v":10.2},{"i":143,"v":8.8},{"i":146,"v":8.6},{"i":148,"v":7.9},{"i":150,"v":7.4},{"i":154,"v":6.5},{"i":155,"v":6.96}],
"pricelabels":[{"i":0.85,"v":5629.3,"t":"5644.15"},{"i":6.8,"v":5841.4,"t":"5828.96"},{"i":19.8,"v":5919.5,"t":"5906.64"},{"i":27.8,"v":5853.5,"t":"5865.16"},{"i":41.8,"v":5884.3,"t":"5895.69"},{"i":62.7,"v":5814,"t":"5825.82"},{"i":68.8,"v":5891.3,"t":"5878.08"},{"i":69.8,"v":5755.7,"t":"5767.41"},{"i":45.8,"v":5980,"t":"5968.61"},{"i":83.7,"v":5952.4,"t":"5939.92"},{"i":90.9,"v":5955,"t":"5943.13"},{"i":96.7,"v":5930.4,"t":"5917.77"},{"i":103.8,"v":5935.3,"t":"5922.14"},{"i":93.7,"v":5862.7,"t":"5873.80"},{"i":105.8,"v":5850.6,"t":"5861.43"},{"i":100.8,"v":5833.4,"t":"5843.66"},{"i":118.7,"v":6001.9,"t":"5990.48"},{"i":128.8,"v":6011,"t":"5999.70"},{"i":125.8,"v":5937.8,"t":"5949.36"},{"i":131.9,"v":5909.6,"t":"5921.20"}],
"tagsmain":[{"i":201.76,"i2":208.3,"v":6051.17,"lo":6044,"hi":6058.3,"s":"bb"},{"i":201.76,"i2":208.3,"v":6017.11,"lo":6010,"hi":6024.3,"s":"bb"},{"i":201.76,"i2":208.3,"v":5983.05,"lo":5975.9,"hi":5990.2,"s":"bb"},{"i":201.76,"i2":208.3,"v":6028.66,"lo":6021.5,"hi":6035.8,"s":"ma10"},{"i":201.76,"i2":208.3,"v":5984.53,"lo":5977.4,"hi":5991.7,"s":"ma50"},{"i":201.76,"i2":208.3,"v":5852.05,"lo":5844.9,"hi":5859.2,"s":"ma200"},{"i":201.76,"i2":208.3,"v":6055.97,"lo":6048.8,"hi":6063.1,"s":"price"}],
"tagsmacd":[{"i":201.76,"i2":207.9,"v":15.879,"lo":11.2,"hi":20.6,"s":"r"},{"i":201.76,"i2":205.9,"v":1.975,"lo":-2.7,"hi":6.6,"s":"b"},{"i":201.76,"i2":207.9,"v":17.854,"lo":13.2,"hi":22.5,"s":"m"}],
"tagssto":[{"i":201.76,"i2":206.8,"v":89.44,"lo":84.5,"hi":94.4,"s":"d"},{"i":201.76,"i2":206.8,"v":93.05,"lo":88.1,"hi":98,"s":"k"}],
"tagsadx":[{"i":201.76,"i2":206.8,"v":23.42,"lo":21.6,"hi":25.2,"s":"p"},{"i":201.76,"i2":206.8,"v":17.82,"lo":16,"hi":19.6,"s":"m"},{"i":201.76,"i2":205.7,"v":6.96,"lo":5.15,"hi":8.77,"s":"a"}]
},
"vconcat":[
{"width":1192,"height":29,"view":{"fill":null,"stroke":null},"encoding":{"x":{"field":"x","type":"quantitative","scale":{"domain":[0,1192],"nice":false,"zero":false},"axis":null},"y":{"field":"y","type":"quantitative","scale":{"domain":[29,0],"nice":false,"zero":false},"axis":null},"text":{"field":"t"}},
"layer":[
{"data":{"values":[{"x":1,"y":9,"t":"$SPX"}]},"mark":{"type":"text","align":"left","fontWeight":"bold","fontSize":14,"color":"#000"}},
{"data":{"values":[{"x":38,"y":9,"t":"S&P 500 Large Cap Index"}]},"mark":{"type":"text","align":"left","fontSize":10.5,"color":"#000"}},
{"data":{"values":[{"x":1,"y":22,"t":"11-Jun-2025 10:51am"},{"x":816,"y":22,"t":"6049.38"},{"x":889,"y":22,"t":"6058.13"},{"x":961,"y":22,"t":"6031.81"},{"x":1033,"y":22,"t":"6055.97"},{"x":1103,"y":22,"t":"+17.16 (+0.28%)"}]},"mark":{"type":"text","align":"left","fontSize":11,"color":"#000"}},
{"data":{"values":[{"x":166,"y":9,"t":"INDX"}]},"mark":{"type":"text","align":"left","fontSize":10,"color":"#000"}},
{"data":{"values":[{"x":784,"y":22,"t":"Open"},{"x":861,"y":22,"t":"High"},{"x":934,"y":22,"t":"Low"},{"x":1006,"y":22,"t":"Last"},{"x":1078,"y":22,"t":"Chg"}]},"mark":{"type":"text","align":"left","fontSize":11,"fontWeight":"bold","color":"#000"}},
{"data":{"values":[{"x":1103,"y":9,"t":"©StockCharts.com"}]},"mark":{"type":"text","align":"left","fontSize":11,"color":"#555"}},
{"data":{"values":[{"x":1186,"y":22,"t":"▲"}]},"mark":{"type":"text","align":"left","fontSize":8,"font":"DejaVu Sans","color":"#555"}}
]},
{"width":1192,"height":144,"resolve":{"scale":{"color":"independent","fill":"independent","stroke":"independent","strokeDash":"independent"}},"encoding":{"x":{"field":"i","type":"quantitative","scale":{"domain":[-0.508,201.42],"nice":false,"zero":false},"axis":{"values":[0,7,14,21,28,35,42,49,56,63,70,77,84,91,98,105,112,119,126,133,140,147,154,161,168,175,182,189,196],"tickCount":100,"labels":false,"ticks":false,"domain":false,"gridColor":{"condition":{"test":"indexof([7,42,77,105,140,175],datum.value)>=0","value":"#A6A6B8"},"value":"#C2C2D2"}}}},
"layer":[
{"data":{"values":[{"v":70,"s":"solid"},{"v":50,"s":"dash"},{"v":30,"s":"solid"}]},"mark":{"type":"rule","color":"#666","strokeWidth":1.5},"encoding":{"x":{"value":0},"x2":{"value":1192},"y":{"field":"v","type":"quantitative","scale":{"domain":[-5.2,105.6],"nice":false,"zero":false},"axis":{"orient":"right","tickCount":100,"labelOverlap":false,"values":[0,10,20,30,40,50,60,70,80,90,100],"labelExpr":"indexof([10,30,50,90],datum.value)>=0?datum.label:''","tickSize":2}},"strokeDash":{"field":"s","type":"nominal","scale":{"domain":["solid","dash"],"range":[[1,0],[10,3,2,3]]},"legend":null}}},
{"data":{"name":"rsifill"},"mark":{"type":"area","color":"#4A8A60"},"encoding":{"y":{"field":"v","type":"quantitative"},"y2":{"datum":70}}},
{"data":{"name":"ind"},"mark":{"type":"line","color":"#303038","strokeWidth":1.2},"encoding":{"y":{"field":"rsi","type":"quantitative"}}},
{"data":{"values":[{"i":0.2,"v":100.5,"t":"▲"},{"i":2.03,"v":100.5,"t":"RSI(14) 68.61"}]},"mark":{"type":"text","align":"left","font":"DejaVu Sans","fontSize":10,"color":"#000"},"encoding":{"y":{"field":"v","type":"quantitative"},"text":{"field":"t"}}},
{"data":{"values":[{"i":201.76,"v":68.61}]},"mark":{"type":"point","shape":"triangle-left","size":45,"filled":true,"fill":"white","stroke":"#000"},"encoding":{"y":{"field":"v","type":"quantitative"}}},
{"data":{"values":[{"i":201.76,"i2":206.8,"v":63.6,"v2":73.6}]},"mark":{"type":"rect","fill":"white","stroke":"#000"},"encoding":{"x2":{"field":"i2"},"y":{"field":"v","type":"quantitative"},"y2":{"field":"v2"}}},
{"data":{"values":[{"i":202.1,"v":68.61,"t":"68.61"}]},"mark":{"type":"text","align":"left","fontSize":12,"color":"#000"},"encoding":{"y":{"field":"v","type":"quantitative"},"text":{"field":"t"}}}
]},
{"width":1192,"height":415,"resolve":{"scale":{"color":"independent","fill":"independent","stroke":"independent","strokeDash":"independent"}},"encoding":{"x":{"field":"i","type":"quantitative","scale":{"domain":[-0.508,201.42],"nice":false,"zero":false},"axis":{"values":[0,7,14,21,28,35,42,49,56,63,70,77,84,91,98,105,112,119,126,133,140,147,154,161,168,175,182,189,196],"tickCount":100,"labelExpr":"['9','12','13','14','15','16','19','20','21','22','23','27','28','29','30','Jun','3','4','5','6','9','10','11','12','13','16','17','18','20'][datum.value/7]","labelFontWeight":{"condition":{"test":"datum.value==105","value":"bold"},"value":"normal"},"labelOverlap":false,"tickSize":2,"labelPadding":1,"domain":false,"gridColor":{"condition":{"test":"indexof([7,42,77,105,140,175],datum.value)>=0","value":"#A6A6B8"},"value":"#C2C2D2"}}}},
"layer":[
{"data":{"name":"bb"},"mark":{"type":"area","fill":"#C6CFD8","stroke":"#B2B9BF","strokeWidth":1,"clip":true},"encoding":{"y":{"field":"u","type":"quantitative","scale":{"domain":[5621,6077],"nice":false,"zero":false},"axis":{"orient":"right","tickCount":100,"labelOverlap":false,"values":[5640,5660,5680,5700,5720,5740,5760,5780,5800,5820,5840,5860,5880,5900,5920,5940,5960,5980,6000,6020,6040],"labelExpr":"datum.value==6020||datum.value==5980?'':datum.label","tickSize":2}},"y2":{"field":"l"}}},
{"data":{"name":"bbmid"},"mark":{"type":"line","color":"#A8ACB4","strokeWidth":1.2,"strokeDash":[2,3]},"encoding":{"y":{"field":"v","type":"quantitative"}}},
{"data":{"name":"ma200"},"mark":{"type":"line","color":"#1C1C80","strokeWidth":1.5,"clip":true},"encoding":{"y":{"field":"v","type":"quantitative"}}},
{"data":{"name":"ma50"},"mark":{"type":"line","color":"#1A5A28","strokeWidth":1.2,"clip":true},"encoding":{"y":{"field":"v","type":"quantitative"}}},
{"data":{"values":[{"i":154.3,"i2":155.5,"v":6058.6,"v2":6040}]},"mark":{"type":"rect","color":"#F5F53C"},"encoding":{"x2":{"field":"i2"},"y":{"field":"v","type":"quantitative"},"y2":{"field":"v2"}}},
{"data":{"name":"candles"},"mark":{"type":"rule","strokeWidth":1},"encoding":{"y":{"field":"l","type":"quantitative"},"y2":{"field":"h"},"color":{"field":"k","type":"nominal","scale":{"domain":["u","r","b","h"],"range":["#000000","#C2103E","#000000","#C2103E"]},"legend":null}}},
{"data":{"name":"candles"},"mark":{"type":"bar","width":4.5,"strokeWidth":1},"encoding":{"y":{"field":"o","type":"quantitative"},"y2":{"field":"c"},"fill":{"field":"k","type":"nominal","scale":{"domain":["u","r","b","h"],"range":["#D3D8E2","#C2103E","#000000","#D3D8E2"]},"legend":null},"stroke":{"field":"k","type":"nominal","scale":{"domain":["u","r","b","h"],"range":["#000000","#C2103E","#000000","#C2103E"]},"legend":null}}},
{"data":{"name":"ma10"},"mark":{"type":"line","color":"#C8143C","strokeWidth":1.2},"encoding":{"y":{"field":"v","type":"quantitative"}}},
{"data":{"values":[{"i":-0.508,"i2":7,"v":5803,"s":"red"},{"i":7,"i2":201.42,"v":5803,"s":"green"}]},"mark":{"type":"rule","strokeWidth":2.4},"encoding":{"x2":{"field":"i2"},"y":{"field":"v","type":"quantitative"},"color":{"field":"s","type":"nominal","scale":{"domain":["red","green"],"range":["#FF0000","#008000"]},"legend":null}}},
{"data":{"values":[{"i":154,"i2":201.42,"v":6036.7}]},"mark":{"type":"rule","color":"#0000F0","strokeWidth":1.5,"strokeDash":[3,2]},"encoding":{"x2":{"field":"i2"},"y":{"field":"v","type":"quantitative"}}},
{"data":{"name":"pricelabels"},"mark":{"type":"rect","width":37,"height":12,"fill":"white","stroke":"#A8A8B4"},"encoding":{"y":{"field":"v","type":"quantitative"}}},
{"data":{"name":"pricelabels"},"mark":{"type":"text","fontSize":10,"color":"#000"},"encoding":{"y":{"field":"v","type":"quantitative"},"text":{"field":"t"}}},
{"data":{"values":[{"i":75.8,"i2":125.9,"v":5856,"v2":5806,"s":"red"},{"i":132,"i2":189.4,"v":5985.4,"v2":5940.3,"s":"orange"},{"i":41,"i2":45.1,"v":5958,"v2":5888,"s":"cyan"},{"i":69,"i2":77,"v":5838,"v2":5782.9,"s":"cyan"}]},"mark":{"type":"rect","fillOpacity":0.5,"strokeOpacity":0.75,"strokeWidth":2},"encoding":{"x2":{"field":"i2"},"y":{"field":"v","type":"quantitative"},"y2":{"field":"v2"},"fill":{"field":"s","type":"nominal","scale":{"domain":["red","orange","cyan"],"range":["#EE5D72","#EDAA78","#4FE0E8"]},"legend":null},"stroke":{"field":"s","type":"nominal","scale":{"domain":["red","orange","cyan"],"range":["#E85068","#F0A040","#40EEF0"]},"legend":null}}},
{"data":{"values":[{"i":62.9,"i2":70.8,"v":5858,"v2":5894.6,"s":"solid"},{"i":62.9,"i2":71.1,"v":5823.5,"v2":5855.4,"s":"dash"}]},"mark":{"type":"rule","color":"#FF10E0","strokeWidth":2},"encoding":{"x2":{"field":"i2"},"y":{"field":"v","type":"quantitative"},"y2":{"field":"v2"},"strokeDash":{"field":"s","type":"nominal","scale":{"domain":["solid","dash"],"range":[[1,0],[8,3]]},"legend":null}}},
{"data":{"values":[{"i":85,"i2":112.1,"v":6032.3,"v2":5998.2},{"i":113.8,"i2":124.7,"v":5838.9,"v2":5813.6},{"i":177.2,"i2":188.2,"v":5973,"v2":5947.7}]},"mark":{"type":"rect","fill":"#777","fillOpacity":0.7},"encoding":{"x2":{"field":"i2"},"y":{"field":"v","type":"quantitative"},"y2":{"field":"v2"}}},
{"data":{"values":[{"i":84.5,"i2":111.6,"v":6035.6,"v2":6001.5},{"i":113.3,"i2":124.2,"v":5842.2,"v2":5816.9},{"i":176.7,"i2":187.7,"v":5976.3,"v2":5951}]},"mark":{"type":"rect","fill":"white","stroke":"#808080","strokeWidth":1},"encoding":{"x2":{"field":"i2"},"y":{"field":"v","type":"quantitative"},"y2":{"field":"v2"}}},
{"data":{"values":[{"i":84.9,"v":6018,"t":"sp`60min cycle"}]},"mark":{"type":"text","align":"left","fontSize":21.5,"color":"#000"},"encoding":{"y":{"field":"v","type":"quantitative"},"text":{"field":"t"}}},
{"data":{"values":[{"i":113.8,"v":5829.5,"t":"5854/02"},{"i":177.2,"v":5963.6,"t":"5987/39"}]},"mark":{"type":"text","align":"left","fontSize":14,"color":"#000"},"encoding":{"y":{"field":"v","type":"quantitative"},"text":{"field":"t"}}},
{"data":{"values":[{"i":0.2,"v":6069.7,"t":"▮"},{"i":2.03,"v":6069.7,"t":"$SPX (60 min) 6055.97"}]},"mark":{"type":"text","align":"left","font":"DejaVu Sans","fontSize":10,"color":"#000"},"encoding":{"y":{"field":"v","type":"quantitative"},"text":{"field":"t"}}},
{"data":{"values":[{"i":0.2,"v":6057.6,"t":"▲","s":"bb"},{"i":1.69,"v":6057.6,"t":"BB(20,2.0) 5983.05 - 6017.11 - 6051.17","s":"bb"},{"i":0.2,"v":6045.5,"t":"▬","s":"ma10"},{"i":1.69,"v":6045.5,"t":"MA(10) 6028.66","s":"ma10"},{"i":0.2,"v":6033.4,"t":"▬","s":"ma50"},{"i":1.69,"v":6033.4,"t":"MA(50) 5984.53","s":"ma50"},{"i":0.2,"v":6021.3,"t":"▬","s":"ma200"},{"i":1.69,"v":6021.3,"t":"MA(200) 5852.05","s":"ma200"}]},"mark":{"type":"text","align":"left","fontSize":10},"encoding":{"y":{"field":"v","type":"quantitative"},"text":{"field":"t"},"color":{"field":"s","type":"nominal","scale":{"domain":["bb","ma10","ma50","ma200"],"range":["#A0A8B0","#C8143C","#006400","#1C3A4A"]},"legend":null}}},
{"data":{"name":"tagsmain"},"mark":{"type":"point","shape":"triangle-left","size":45,"filled":true,"fill":"white"},"encoding":{"y":{"field":"v","type":"quantitative"},"stroke":{"field":"s","type":"nominal","scale":{"domain":["bb","ma10","ma50","ma200","price"],"range":["#A0A8B0","#C8143C","#006400","#1C3A4A","#000000"]},"legend":null}}},
{"data":{"name":"tagsmain"},"mark":{"type":"rect","fill":"white"},"encoding":{"x2":{"field":"i2"},"y":{"field":"lo","type":"quantitative"},"y2":{"field":"hi"},"stroke":{"field":"s","type":"nominal","scale":{"domain":["bb","ma10","ma50","ma200","price"],"range":["#A0A8B0","#C8143C","#006400","#1C3A4A","#000000"]},"legend":null},"order":{"field":"v"}}},
{"data":{"values":[{"i":202.1,"v":6028.66,"t":"6028.66"},{"i":202.1,"v":6017.11,"t":"6017.11"},{"i":202.1,"v":5983.05,"t":"5983.05"},{"i":202.1,"v":5852.05,"t":"5852.05"}]},"mark":{"type":"text","align":"left","fontSize":12,"color":"#000"},"encoding":{"y":{"field":"v","type":"quantitative"},"text":{"field":"t"}}},
{"data":{"values":[{"i":202.1,"v":6055.97,"t":"6055.97"}]},"mark":{"type":"text","align":"left","fontSize":12,"fontWeight":"bold","color":"#000"},"encoding":{"y":{"field":"v","type":"quantitative"},"text":{"field":"t"}}}
]},
{"width":1192,"height":14,"view":{"fill":null,"stroke":null},"data":{"values":[]},"mark":"point","encoding":{"x":{"field":"a","type":"quantitative","axis":null},"y":{"field":"b","type":"quantitative","axis":null}}},
{"width":1192,"height":145,"resolve":{"scale":{"color":"independent","fill":"independent","stroke":"independent","strokeDash":"independent"}},"encoding":{"x":{"field":"i","type":"quantitative","scale":{"domain":[-0.508,201.42],"nice":false,"zero":false},"axis":{"values":[0,7,14,21,28,35,42,49,56,63,70,77,84,91,98,105,112,119,126,133,140,147,154,161,168,175,182,189,196],"tickCount":100,"labels":false,"ticks":false,"domain":false,"gridColor":{"condition":{"test":"indexof([7,42,77,105,140,175],datum.value)>=0","value":"#A6A6B8"},"value":"#C2C2D2"}}}},
"layer":[
{"data":{"name":"ind"},"mark":{"type":"bar","width":4.5,"fill":"#4A9CCB","stroke":"#20708F","strokeWidth":1},"encoding":{"y":{"field":"hist","type":"quantitative","scale":{"domain":[-35.6,68.7],"nice":false,"zero":false},"axis":{"orient":"right","tickCount":100,"labelOverlap":false,"values":[-30,-20,-10,0,10,20,30,40,50,60],"labelExpr":"datum.value==20||datum.value==0?'':datum.label","tickSize":2}},"y2":{"datum":0}}},
{"data":{"name":"signal"},"mark":{"type":"line","color":"#FF0000","strokeWidth":1.2},"encoding":{"y":{"field":"v","type":"quantitative"}}},
{"data":{"name":"macd"},"mark":{"type":"line","color":"#000","strokeWidth":1.8},"encoding":{"y":{"field":"v","type":"quantitative"}}},
{"data":{"values":[{"i":-0.4,"i2":38.8,"v":68.5,"v2":59}]},"mark":{"type":"rect","fill":"#D9D9E8"},"encoding":{"x2":{"field":"i2"},"y":{"field":"v","type":"quantitative"},"y2":{"field":"v2"}}},
{"data":{"values":[{"i":0.2,"v":63.6,"t":"▬","s":"m"},{"i":2.03,"v":63.6,"t":"MACD(12,26,9) 17.854,","s":"m"},{"i":25.2,"v":63.6,"t":"15.879,","s":"r"},{"i":33.2,"v":63.6,"t":"1.975","s":"b"}]},"mark":{"type":"text","align":"left","font":"DejaVu Sans","fontSize":10},"encoding":{"y":{"field":"v","type":"quantitative"},"text":{"field":"t"},"color":{"field":"s","type":"nominal","scale":{"domain":["m","r","b"],"range":["#000000","#FF0000","#4A9CCB"]},"legend":null}}},
{"data":{"values":[{"i":182.3,"i2":199.7,"v":60.7,"v2":30.5}]},"mark":{"type":"rect","fill":"#777","fillOpacity":0.7},"encoding":{"x2":{"field":"i2"},"y":{"field":"v","type":"quantitative"},"y2":{"field":"v2"}}},
{"data":{"values":[{"i":181.8,"i2":199.2,"v":62.9,"v2":32.7}]},"mark":{"type":"rect","fill":"white","stroke":"#808080","strokeWidth":1},"encoding":{"x2":{"field":"i2"},"y":{"field":"v","type":"quantitative"},"y2":{"field":"v2"}}},
{"data":{"values":[{"i":182.1,"v":54.3,"t":"Legacy gaps"},{"i":182.1,"v":41.3,"t":"5807/5659"}]},"mark":{"type":"text","align":"left","fontSize":14.5,"color":"#000"},"encoding":{"y":{"field":"v","type":"quantitative"},"text":{"field":"t"}}},
{"data":{"name":"tagsmacd"},"mark":{"type":"point","shape":"triangle-left","size":45,"filled":true,"fill":"white"},"encoding":{"y":{"field":"v","type":"quantitative"},"stroke":{"field":"s","type":"nominal","scale":{"domain":["m","r","b"],"range":["#000000","#FF0000","#3A6A8A"]},"legend":null}}},
{"data":{"name":"tagsmacd"},"mark":{"type":"rect","fill":"white"},"encoding":{"x2":{"field":"i2"},"y":{"field":"lo","type":"quantitative"},"y2":{"field":"hi"},"stroke":{"field":"s","type":"nominal","scale":{"domain":["m","r","b"],"range":["#000000","#FF0000","#3A6A8A"]},"legend":null},"order":{"field":"v"}}},
{"data":{"values":[{"i":202.1,"v":17.854,"t":"17.854"},{"i":202.1,"v":1.975,"t":"1.975"}]},"mark":{"type":"text","align":"left","fontSize":12,"color":"#000"},"encoding":{"y":{"field":"v","type":"quantitative"},"text":{"field":"t"}}}
]},
{"width":1192,"height":145,"resolve":{"scale":{"color":"independent","fill":"independent","stroke":"independent","strokeDash":"independent"}},"encoding":{"x":{"field":"i","type":"quantitative","scale":{"domain":[-0.508,201.42],"nice":false,"zero":false},"axis":{"values":[0,7,14,21,28,35,42,49,56,63,70,77,84,91,98,105,112,119,126,133,140,147,154,161,168,175,182,189,196],"tickCount":100,"labels":false,"ticks":false,"domain":false,"gridColor":{"condition":{"test":"indexof([7,42,77,105,140,175],datum.value)>=0","value":"#A6A6B8"},"value":"#C2C2D2"}}}},
"layer":[
{"data":{"name":"ind"},"mark":{"type":"bar","width":4.5,"fill":"#4A9CCB","stroke":"#20708F","strokeWidth":1},"encoding":{"y":{"field":"hist","type":"quantitative","scale":{"domain":[-15.2,18.1],"nice":false,"zero":false},"axis":{"orient":"right","tickCount":100,"labelOverlap":false,"values":[-10,-5,0,5,10,15],"tickSize":2}},"y2":{"datum":0}}},
{"data":{"values":[{"i":-0.4,"i2":27,"v":18,"v2":15.1}]},"mark":{"type":"rect","fill":"#D9D9E8"},"encoding":{"x2":{"field":"i2"},"y":{"field":"v","type":"quantitative"},"y2":{"field":"v2"}}},
{"data":{"values":[{"i":0.2,"v":16.5,"t":"▮"},{"i":2.03,"v":16.5,"t":"MACD(12,26,9) Hist 1.975"}]},"mark":{"type":"text","align":"left","font":"DejaVu Sans","fontSize":10,"color":"#000"},"encoding":{"y":{"field":"v","type":"quantitative"},"text":{"field":"t"}}},
{"data":{"values":[{"i":201.76,"v":1.975}]},"mark":{"type":"point","shape":"triangle-left","size":45,"filled":true,"fill":"white","stroke":"#3A6A8A"},"encoding":{"y":{"field":"v","type":"quantitative"}}},
{"data":{"values":[{"i":201.76,"i2":205.9,"v":0.475,"v2":3.475}]},"mark":{"type":"rect","fill":"white","stroke":"#3A6A8A"},"encoding":{"x2":{"field":"i2"},"y":{"field":"v","type":"quantitative"},"y2":{"field":"v2"}}},
{"data":{"values":[{"i":202.1,"v":1.975,"t":"1.975"}]},"mark":{"type":"text","align":"left","fontSize":12,"color":"#000"},"encoding":{"y":{"field":"v","type":"quantitative"},"text":{"field":"t"}}}
]},
{"width":1192,"height":145,"resolve":{"scale":{"color":"independent","fill":"independent","stroke":"independent","strokeDash":"independent"}},"encoding":{"x":{"field":"i","type":"quantitative","scale":{"domain":[-0.508,201.42],"nice":false,"zero":false},"axis":{"values":[0,7,14,21,28,35,42,49,56,63,70,77,84,91,98,105,112,119,126,133,140,147,154,161,168,175,182,189,196],"tickCount":100,"labels":false,"ticks":false,"domain":false,"gridColor":{"condition":{"test":"indexof([7,42,77,105,140,175],datum.value)>=0","value":"#A6A6B8"},"value":"#C2C2D2"}}}},
"layer":[
{"data":{"values":[{"v":80,"s":"solid"},{"v":50,"s":"dash"},{"v":20,"s":"solid"}]},"mark":{"type":"rule","color":"#666","strokeWidth":1.5},"encoding":{"x":{"value":0},"x2":{"value":1192},"y":{"field":"v","type":"quantitative","scale":{"domain":[-5,105.8],"nice":false,"zero":false},"axis":{"orient":"right","tickCount":100,"labelOverlap":false,"values":[0,10,20,30,40,50,60,70,80,90,100],"labelExpr":"indexof([20,50,80],datum.value)>=0?datum.label:''","tickSize":2}},"strokeDash":{"field":"s","type":"nominal","scale":{"domain":["solid","dash"],"range":[[1,0],[10,3,2,3]]},"legend":null}}},
{"data":{"name":"stod"},"mark":{"type":"line","color":"#FF0000","strokeWidth":1.2},"encoding":{"y":{"field":"v","type":"quantitative"}}},
{"data":{"name":"ind"},"mark":{"type":"line","color":"#000","strokeWidth":1.7},"encoding":{"y":{"field":"stok","type":"quantitative"}}},
{"data":{"values":[{"i":-0.4,"i2":39.2,"v":105.6,"v2":96.1}]},"mark":{"type":"rect","fill":"#D9D9E8"},"encoding":{"x2":{"field":"i2"},"y":{"field":"v","type":"quantitative"},"y2":{"field":"v2"}}},
{"data":{"values":[{"i":0.2,"v":100.3,"t":"▬","s":"k"},{"i":2.03,"v":100.3,"t":"Full STO %K(14,3) %D(3) 93.05,","s":"k"},{"i":33.9,"v":100.3,"t":"89.44","s":"d"}]},"mark":{"type":"text","align":"left","font":"DejaVu Sans","fontSize":10},"encoding":{"y":{"field":"v","type":"quantitative"},"text":{"field":"t"},"color":{"field":"s","type":"nominal","scale":{"domain":["k","d"],"range":["#000000","#FF0000"]},"legend":null}}},
{"data":{"name":"tagssto"},"mark":{"type":"point","shape":"triangle-left","size":45,"filled":true,"fill":"white"},"encoding":{"y":{"field":"v","type":"quantitative"},"stroke":{"field":"s","type":"nominal","scale":{"domain":["k","d"],"range":["#000000","#FF0000"]},"legend":null}}},
{"data":{"name":"tagssto"},"mark":{"type":"rect","fill":"white"},"encoding":{"x2":{"field":"i2"},"y":{"field":"lo","type":"quantitative"},"y2":{"field":"hi"},"stroke":{"field":"s","type":"nominal","scale":{"domain":["k","d"],"range":["#000000","#FF0000"]},"legend":null},"order":{"field":"v"}}},
{"data":{"values":[{"i":202.1,"v":93.05,"t":"93.05"}]},"mark":{"type":"text","align":"left","fontSize":12,"color":"#000"},"encoding":{"y":{"field":"v","type":"quantitative"},"text":{"field":"t"}}}
]},
{"width":1192,"height":146,"resolve":{"scale":{"color":"independent","fill":"independent","stroke":"independent","strokeDash":"independent"}},"encoding":{"x":{"field":"i","type":"quantitative","scale":{"domain":[-0.508,201.42],"nice":false,"zero":false},"axis":{"values":[0,7,14,21,28,35,42,49,56,63,70,77,84,91,98,105,112,119,126,133,140,147,154,161,168,175,182,189,196],"tickCount":100,"labelExpr":"['9','12','13','14','15','16','19','20','21','22','23','27','28','29','30','Jun','3','4','5','6','9','10','11','12','13','16','17','18','20'][datum.value/7]","labelFontWeight":{"condition":{"test":"datum.value==105","value":"bold"},"value":"normal"},"labelOverlap":false,"tickSize":2,"labelPadding":1,"domain":false,"gridColor":{"condition":{"test":"indexof([7,42,77,105,140,175],datum.value)>=0","value":"#A6A6B8"},"value":"#C2C2D2"}}}},
"layer":[
{"data":{"name":"ind"},"mark":{"type":"line","color":"#2F6B4F","strokeWidth":1.1},"encoding":{"y":{"field":"pdi","type":"quantitative","scale":{"domain":[4.16,44.9],"nice":false,"zero":false},"axis":{"orient":"right","tickCount":100,"labelOverlap":false,"values":[5,10,15,20,25,30,35,40],"tickSize":2}}}},
{"data":{"name":"ind"},"mark":{"type":"line","color":"#7D2245","strokeWidth":1.1},"encoding":{"y":{"field":"mdi","type":"quantitative"}}},
{"data":{"name":"adx"},"mark":{"type":"line","color":"#000","strokeWidth":1.8},"encoding":{"y":{"field":"v","type":"quantitative"}}},
{"data":{"values":[{"i":-0.4,"i2":35,"v":44.8,"v2":41.3}]},"mark":{"type":"rect","fill":"#D9D9E8"},"encoding":{"x2":{"field":"i2"},"y":{"field":"v","type":"quantitative"},"y2":{"field":"v2"}}},
{"data":{"values":[{"i":0.2,"v":43,"t":"▬","s":"a"},{"i":2.03,"v":43,"t":"ADX(14) 6.96","s":"a"},{"i":15.6,"v":43,"t":"+DI 23.42","s":"p"},{"i":25.9,"v":43,"t":"-DI 17.82","s":"m"}]},"mark":{"type":"text","align":"left","font":"DejaVu Sans","fontSize":10},"encoding":{"y":{"field":"v","type":"quantitative"},"text":{"field":"t"},"color":{"field":"s","type":"nominal","scale":{"domain":["a","p","m"],"range":["#000000","#1E4D3A","#6D1F3F"]},"legend":null}}},
{"data":{"name":"tagsadx"},"mark":{"type":"point","shape":"triangle-left","size":45,"filled":true,"fill":"white"},"encoding":{"y":{"field":"v","type":"quantitative"},"stroke":{"field":"s","type":"nominal","scale":{"domain":["a","p","m"],"range":["#000000","#1E4D3A","#6D1F3F"]},"legend":null}}},
{"data":{"name":"tagsadx"},"mark":{"type":"rect","fill":"white"},"encoding":{"x2":{"field":"i2"},"y":{"field":"lo","type":"quantitative"},"y2":{"field":"hi"},"stroke":{"field":"s","type":"nominal","scale":{"domain":["a","p","m"],"range":["#000000","#1E4D3A","#6D1F3F"]},"legend":null}}},
{"data":{"values":[{"i":202.1,"v":23.42,"t":"23.42"},{"i":202.1,"v":17.82,"t":"17.82"},{"i":202.1,"v":6.96,"t":"6.96"}]},"mark":{"type":"text","align":"left","fontSize":12,"color":"#000"},"encoding":{"y":{"field":"v","type":"quantitative"},"text":{"field":"t"}}}
]}
]}
